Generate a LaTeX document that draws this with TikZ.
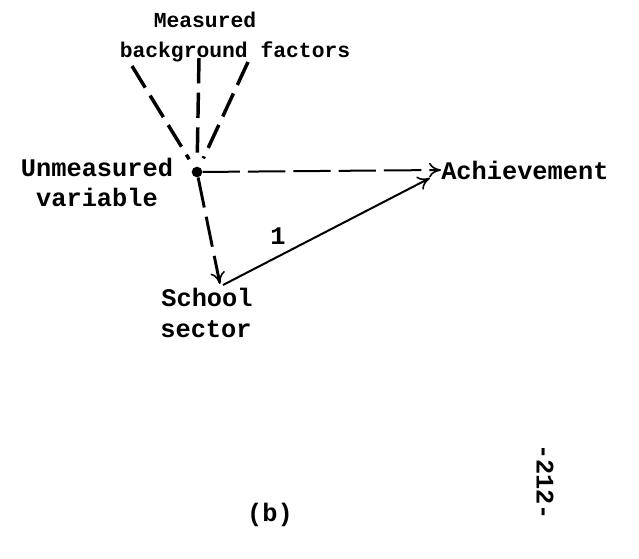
\documentclass[tikz,border=0pt]{standalone}
\usepackage{fontspec}
\usepackage{tikz}
\usetikzlibrary{arrows,arrows.meta}
\newfontfamily\typer{Liberation Mono}

\begin{document}
\begin{tikzpicture}[x=0.75pt,y=-0.75pt,
    >={To[length=9pt,width=11pt,line width=1.2pt]},
    lbl/.style = {font=\typer\bfseries\fontsize{19}{22}\selectfont, inner sep=0pt},
    toplbl/.style = {font=\typer\bfseries\fontsize{16}{19}\selectfont, inner sep=0pt},
    dashline/.style = {line width=2.6pt, dash pattern=on 19pt off 7pt, shorten >=7pt},
    downline/.style = {line width=2.2pt, dash pattern=on 23pt off 7pt},
    flatline/.style = {line width=1.5pt, dash pattern=on 28pt off 6pt},
    solidline/.style = {line width=1.5pt}
  ]
  \useasboundingbox (0,0) rectangle (639,558);

  % labels
  \node[toplbl] (meas) at (205,20) {Measured};
  \node[toplbl] (bg) at (235,52) {background factors};
  \node[lbl] (unm) at (97,167) {Unmeasured};
  \node[lbl] (var) at (97,197) {variable};
  \node[lbl, anchor=west] (ach) at (441,170) {Achievement};
  \node[lbl] (sch) at (207,297) {School};
  \node[lbl] (sec) at (206,329) {sector};

  % the unmeasured variable
  \node[circle, fill, inner sep=0pt, minimum size=8pt] (uv) at (197,172) {};

  % ends of the lines under the top label
  \coordinate (m1) at (132,66);
  \coordinate (m2) at (199,58);
  \coordinate (m3) at (248,62);
  % arrow ends near school sector and achievement
  \coordinate (schtop) at (220,284);
  \coordinate (schout) at (223,285);
  \coordinate (achin) at (430,178);

  \draw[dashline] (m1) -- (uv);
  \draw[dashline] (m2) -- (uv);
  \draw[dashline] (m3) -- (uv);

  \draw[->, flatline] (uv) -- (ach.west);
  \draw[->, downline] (uv) -- (schtop);
  \draw[->, solidline] (schout) -- (achin);

  \node[lbl] (one) at (278,236) {1};

  \node[lbl] (b) at (270,515) {(b)};
  \node[lbl, rotate=-90] (pg) at (545,482) {-212-};

\end{tikzpicture}
\end{document}
